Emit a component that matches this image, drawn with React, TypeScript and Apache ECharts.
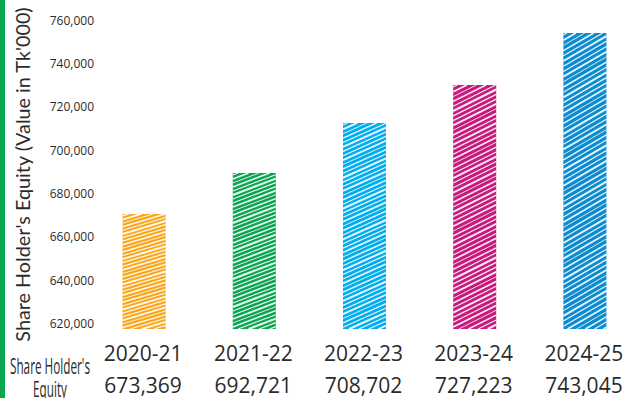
import React, { useEffect, useRef } from "react";
import * as echarts from "echarts";

const categories = ["2020-21", "2021-22", "2022-23", "2023-24", "2024-25"];
// bar heights as drawn in the picture (Tk'000)
const barValues = [670500, 689400, 712500, 730000, 754000];
// values printed in the table row under the axis (Tk'000)
const equityValues = [673369, 692721, 708702, 727223, 743045];
const barColors = ["#faa61a", "#0aa64f", "#00aeef", "#c8197c", "#0b8bd0"];
const yMin = 617400;
const yMax = 760000;
const yStep = 20000;

const BAR_W = 43;
const SLOPES = [0.3, 0.38, 0.45, 0.5, 0.58];
const GAPS = [3.6, 4, 4.4, 4.8, 5.2];
const WIDTHS = [1.2, 1.8, 0.9, 1.5, 1.1, 2.0, 1.3];

function renderBar(params: any, api: any) {
  const i = params.dataIndex;
  const v = api.value(1);
  const top = api.coord([i, v]);
  const bot = api.coord([i, yMin]);
  const x0 = top[0] - BAR_W / 2 + 1;
  const x1 = top[0] + BAR_W / 2 + 1;
  const yT = top[1];
  const yB = bot[1];
  const k = SLOPES[i % SLOPES.length];
  const gap = GAPS[i % GAPS.length];
  const rise = k * BAR_W;
  const children: any[] = [
    {
      type: "rect",
      shape: { x: x0, y: yT, width: BAR_W, height: yB - yT },
      style: { fill: barColors[i] },
    },
  ];
  let n = 0;
  for (let yl = yT + 2; yl < yB + rise; yl += gap) {
    let xa = x0;
    let xb = x1;
    xb = Math.min(xb, x0 + (yl - yT) / k);
    xa = Math.max(xa, x0 + (yl - yB) / k);
    if (xb - xa > 1) {
      children.push({
        type: "line",
        shape: {
          x1: xa,
          y1: yl - k * (xa - x0),
          x2: xb,
          y2: yl - k * (xb - x0),
        },
        style: {
          stroke: "rgba(255,255,255,0.92)",
          lineWidth: WIDTHS[n % WIDTHS.length],
        },
      });
    }
    n++;
  }
  return { type: "group", children };
}

export default function App() {
  const ref = useRef<HTMLDivElement>(null);
  useEffect(() => {
    if (!ref.current) return;
    const chart = echarts.init(ref.current, null, { renderer: "svg" });
    chart.setOption({
      animation: false,
      backgroundColor: "#ffffff",
      grid: { left: 88, right: -15, top: 20, bottom: 69, containLabel: false },
      xAxis: {
        type: "category",
        data: categories,
        axisLine: { show: false },
        axisTick: { show: false },
        axisLabel: {
          margin: 8,
          interval: 0,
          formatter: (v: string, i: number) =>
            `{a|${v}}\n{a|${equityValues[i].toLocaleString("en-US")}}`,
          rich: {
            a: {
              fontFamily: "Open Sans",
              fontSize: 21,
              color: "#2b2b2b",
              lineHeight: 32,
            },
          },
        },
      },
      yAxis: {
        type: "value",
        min: yMin,
        max: yMax,
        splitNumber: 7,
        minInterval: yStep,
        maxInterval: yStep,
        axisLine: { show: false },
        axisTick: { show: false },
        splitLine: { show: false },
        axisLabel: {
          showMinLabel: false,
          margin: -6,
          fontFamily: "Open Sans",
          fontSize: 12,
          color: "#2b2b2b",
          formatter: (v: number) =>
            v % yStep === 0 ? v.toLocaleString("en-US") : "",
        },
        name: "Share Holder's Equity (Value in Tk'000)",
        nameLocation: "middle",
        nameRotate: 90,
        nameGap: 56,
        nameTextStyle: {
          fontFamily: "Lato",
          fontSize: 19.8,
          color: "#2b2b2b",
        },
      },
      series: [
        {
          type: "custom",
          renderItem: renderBar,
          encode: { x: 0, y: 1 },
          data: barValues.map((v, i) => [i, v]),
        },
      ],
      graphic: [
        {
          type: "rect",
          shape: { x: 0, y: 0, width: 5, height: 398 },
          style: { fill: "#0aa64f" },
        },
        {
          type: "text",
          x: 50,
          y: 354,
          scaleX: 0.56,
          style: {
            text: "Share Holder's\nEquity",
            fontFamily: "Open Sans",
            fontSize: 21,
            lineHeight: 23,
            fill: "#2b2b2b",
            textAlign: "center",
            textVerticalAlign: "top",
          },
        },
      ],
    });
    return () => chart.dispose();
  }, []);
  return (
    <div
      ref={ref}
      style={{ width: 639, height: 398, position: "fixed", left: 0, top: 0 }}
    />
  );
}
